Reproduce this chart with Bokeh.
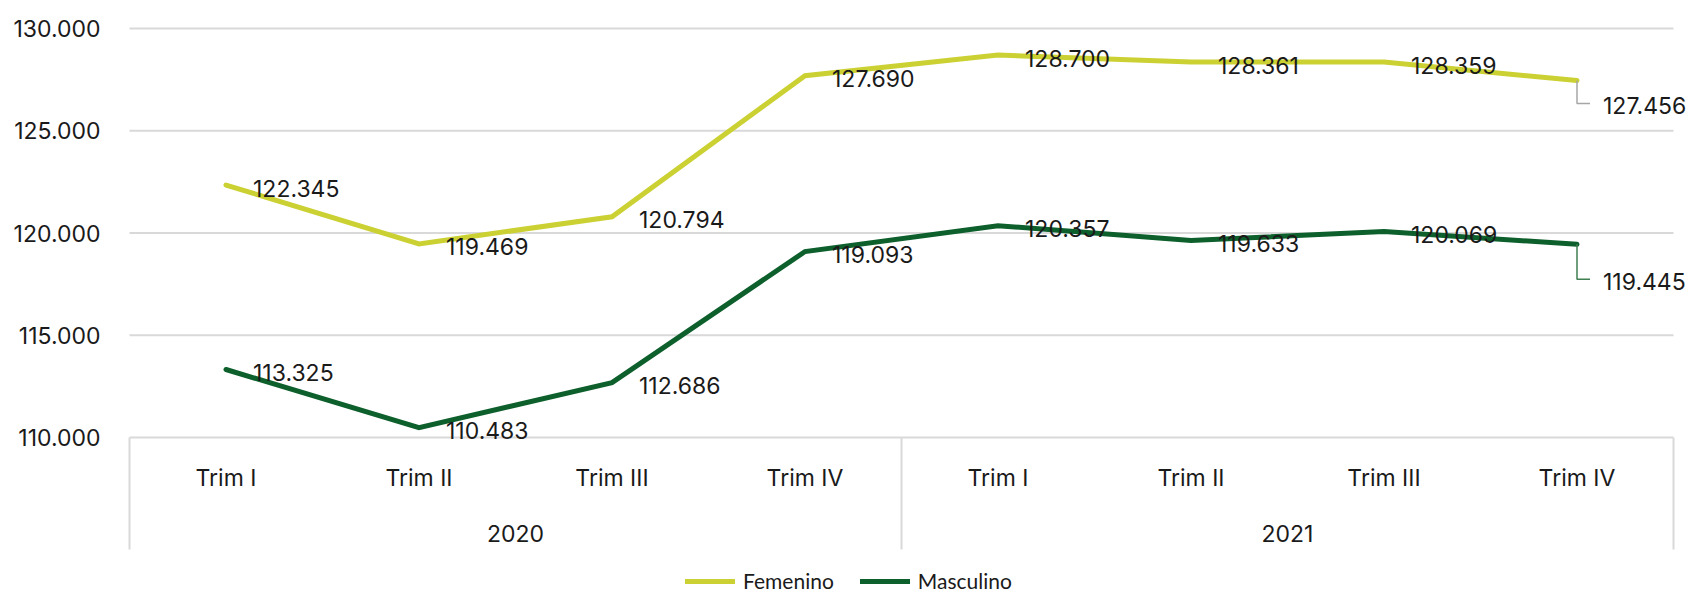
from bokeh.plotting import figure
from bokeh.models import (Range1d, FixedTicker, ColumnDataSource, LabelSet,
                          Legend, LegendItem)
from bokeh.embed import file_html
from bokeh.resources import INLINE
from bokeh.core.properties import value

# ---------------- data ----------------
years = ["2020", "2021"]
quarters = ["Trim I", "Trim II", "Trim III", "Trim IV"]
femenino = [122345, 119469, 120794, 127690, 128700, 128361, 128359, 127456]
masculino = [113325, 110483, 112686, 119093, 120357, 119633, 120069, 119445]
series_names = ["Femenino", "Masculino"]
y_ticks = [110000, 115000, 120000, 125000, 130000]


def fmt(v):
    return f"{v:,}".replace(",", ".")


# ---------------- styles / geometry ----------------
COLORS = ["#CBD133", "#0D5F2C"]
LEADER_COLORS = ["#A6A6A6", "#3F7F52"]
TEXT = "#1a1a1a"
GRID = "#D9D9D9"
FONT = "Inter"
FS = "23px"

W, H = 1695, 596
X0_PX, X8_PX = 129, 1673          # band edges (px)
YTOP_PX, YBOT_PX = 28, 437         # top / bottom tick (px)
BAND_BOTTOM_PX = 549
FRAME_L, FRAME_R, FRAME_T, FRAME_B = 127, W, 16, H

n_cat = len(years) * len(quarters)
ymin, ymax = y_ticks[0], y_ticks[-1]
upx_x = n_cat / (X8_PX - X0_PX)
upx_y = (ymax - ymin) / (YBOT_PX - YTOP_PX)
x_start = -(X0_PX - FRAME_L) * upx_x
x_end = n_cat + (FRAME_R - X8_PX) * upx_x
y_end = ymax + (YTOP_PX - FRAME_T) * upx_y
y_start = ymin - (FRAME_B - YBOT_PX) * upx_y
y_band = ymin - (BAND_BOTTOM_PX - YBOT_PX) * upx_y

p = figure(width=W, height=H, output_backend="svg", toolbar_location=None,
           x_range=Range1d(x_start, x_end), y_range=Range1d(y_start, y_end),
           x_axis_location=None,
           min_border_left=FRAME_L, min_border_right=W - FRAME_R,
           min_border_top=FRAME_T, min_border_bottom=H - FRAME_B)
p.outline_line_color = None
p.background_fill_color = "white"
p.border_fill_color = "white"
p.xgrid.visible = False
p.ygrid.visible = False

# y axis
ax = p.yaxis[0]
ax.ticker = FixedTicker(ticks=y_ticks)
ax.major_label_overrides = {t: fmt(t) for t in y_ticks}
ax.axis_line_color = None
ax.major_tick_line_color = None
ax.minor_tick_line_color = None
ax.major_tick_out = 0
ax.major_tick_in = 0
ax.major_label_standoff = 27
ax.major_label_text_font = FONT
ax.major_label_text_font_size = FS
ax.major_label_text_color = TEXT

# horizontal grid lines (limited to the category span)
p.segment(x0=[0] * len(y_ticks), y0=y_ticks, x1=[n_cat] * len(y_ticks),
          y1=y_ticks, line_color=GRID, line_width=2)

# category band separators
seps = [i * len(quarters) for i in range(len(years) + 1)]
p.segment(x0=seps, y0=[ymin] * len(seps), x1=seps, y1=[y_band] * len(seps),
          line_color=GRID, line_width=2)

# category labels
cat_x = [i + 0.5 for i in range(n_cat)]
cat_lbl = [q for _ in years for q in quarters]
p.text(x=cat_x, y=[ymin] * n_cat, text=cat_lbl, y_offset=40,
       text_align="center", text_baseline="middle",
       text_font=value(FONT), text_font_size=FS, text_color=TEXT)
yr_x = [i * len(quarters) + len(quarters) / 2 for i in range(len(years))]
p.text(x=yr_x, y=[ymin] * len(years), text=years, y_offset=96,
       text_align="center", text_baseline="middle",
       text_font=value(FONT), text_font_size=FS, text_color=TEXT)

# lines, labels
renderers = []
last_drop = [25, 37]
for k, (name, vals) in enumerate(zip(series_names, [femenino, masculino])):
    r = p.line(cat_x, vals, line_color=COLORS[k], line_width=5,
               line_cap="round", line_join="miter")
    renderers.append(r)
    # leader line for last point
    xl = cat_x[-1]
    yl = vals[-1]
    yb = yl - (last_drop[k] - 2) * upx_y
    p.line([xl, xl, xl + 13 * upx_x], [yl, yb, yb],
           line_color=LEADER_COLORS[k], line_width=1.5)
    xo = [27] * (n_cat - 1) + [26]
    yo = [-3] * (n_cat - 1) + [-last_drop[k]]
    src = ColumnDataSource(dict(x=cat_x, y=vals, t=[fmt(v) for v in vals],
                                xo=xo, yo=yo))
    p.add_layout(LabelSet(x="x", y="y", text="t", source=src,
                          x_offset="xo", y_offset="yo",
                          text_align="left", text_baseline="middle",
                          text_font=value(FONT), text_font_size=FS,
                          text_color=TEXT))

legend = Legend(items=[LegendItem(label=n, renderers=[r])
                       for n, r in zip(series_names, renderers)],
                orientation="horizontal", location=(558, 3),
                padding=0, margin=0, spacing=26, glyph_width=50,
                glyph_height=20, label_standoff=8,
                border_line_color=None, background_fill_alpha=0,
                label_text_font="Lato", label_text_font_size="21px",
                label_text_color=TEXT)
p.add_layout(legend)

open("out.html", "w").write(file_html(p, INLINE))
